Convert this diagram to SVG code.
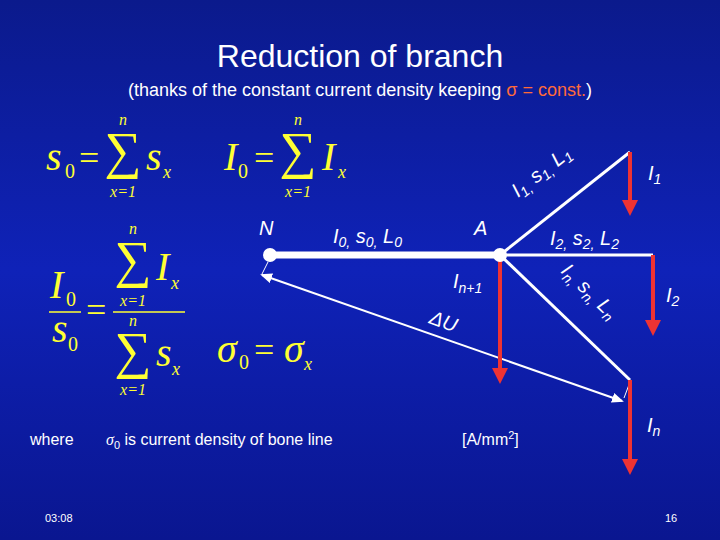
<svg xmlns="http://www.w3.org/2000/svg" width="720" height="540" viewBox="0 0 720 540">
<defs>
<linearGradient id="bg" x1="0" y1="0" x2="0" y2="1">
<stop offset="0" stop-color="#0b1a8c"/><stop offset="0.5" stop-color="#0f22b8"/><stop offset="1" stop-color="#0a1690"/>
</linearGradient>
<marker id="ra" markerWidth="4" markerHeight="4" refX="2" refY="2" orient="auto" markerUnits="strokeWidth"><path d="M0,0 L4,2 L0,4 z" fill="#ee3333"/></marker>
<marker id="wa" markerWidth="6" markerHeight="6" refX="5" refY="3" orient="auto-start-reverse" markerUnits="strokeWidth"><path d="M0,0.5 L6,3 L0,5.5 z" fill="#fff"/></marker>
<style>
.m{font-family:"Liberation Serif",serif;fill:#ffff33}
.i{font-style:italic;font-size:40px}
.eq{font-size:36px}
.sb{font-size:20px}
.sm{font-size:16px;font-style:italic;text-anchor:middle}
.sx{font-size:18px;font-style:italic}
.sig{font-size:52px;text-anchor:middle}
.l{font-family:"Liberation Sans",sans-serif;fill:#fff;font-style:italic;font-size:20px}
.t{font-family:"Liberation Sans",sans-serif;fill:#fff}
.red{stroke:#ee3333;stroke-width:4;marker-end:url(#ra)}
</style>
</defs>
<rect width="720" height="540" fill="url(#bg)"/>
<text class="t" x="360" y="67" font-size="32" text-anchor="middle">Reduction of branch</text>
<text class="t" x="360" y="96" font-size="18" text-anchor="middle">(thanks of the constant current density keeping <tspan fill="#ff6a3a">σ = const.</tspan>)</text>
<g id="formulas" class="m">
<text class="i" x="46" y="170">s</text><text class="sb" x="65" y="178">0</text><text class="eq" x="79" y="170">=</text>
<text class="sig" x="123" y="168">∑</text><text class="sm" x="123" y="125">n</text><text class="sm" x="123" y="197">x=1</text>
<text class="i" x="146" y="170">s</text><text class="sx" x="163" y="178">x</text>
<text class="i" x="224" y="170">I</text><text class="sb" x="238" y="178">0</text><text class="eq" x="254" y="170">=</text>
<text class="sig" x="298" y="168">∑</text><text class="sm" x="298" y="125">n</text><text class="sm" x="298" y="197">x=1</text>
<text class="i" x="322" y="170">I</text><text class="sx" x="338" y="178">x</text>
<text class="i" x="50" y="298">I</text><text class="sb" x="66" y="306">0</text>
<line x1="49" y1="312" x2="81" y2="312" stroke="#ffff33" stroke-width="1.5"/>
<text class="i" x="52" y="342">s</text><text class="sb" x="68" y="351">0</text>
<text class="eq" x="86" y="322">=</text>
<text class="sig" x="133" y="277">∑</text><text class="sm" x="133" y="234">n</text><text class="sm" x="133" y="306">x=1</text>
<text class="i" x="156" y="280">I</text><text class="sx" x="171" y="289">x</text>
<line x1="113" y1="312" x2="185" y2="312" stroke="#ffff33" stroke-width="1.5"/>
<text class="sig" x="133" y="368">∑</text><text class="sm" x="133" y="326">n</text><text class="sm" x="133" y="395">x=1</text>
<text class="i" x="156" y="366">s</text><text class="sx" x="172" y="375">x</text>
<text class="i" x="217" y="362">σ</text><text class="sb" x="239" y="369">0</text><text class="eq" x="254" y="362">=</text>
<text class="i" x="284" y="362">σ</text><text class="sx" x="304" y="370">x</text>
</g>
<g id="connectors">
<line x1="270" y1="255" x2="500" y2="255" stroke="#fff" stroke-width="7"/>
<line x1="500" y1="255" x2="630" y2="152" stroke="#fff" stroke-width="3"/>
<line x1="500" y1="255" x2="653" y2="255" stroke="#fff" stroke-width="3"/>
<line x1="500" y1="255" x2="630" y2="380" stroke="#fff" stroke-width="3"/>
<line x1="268" y1="262" x2="262" y2="274" stroke="#fff" stroke-width="1"/>
<line x1="630" y1="382" x2="624" y2="398" stroke="#fff" stroke-width="1"/>
<line x1="262" y1="275" x2="622" y2="401" stroke="#fff" stroke-width="2" marker-start="url(#wa)" marker-end="url(#wa)"/>
<line class="red" x1="630" y1="152" x2="630" y2="208"/>
<line class="red" x1="653" y1="255" x2="653" y2="328"/>
<line class="red" x1="500" y1="257" x2="500" y2="376"/>
<line class="red" x1="630" y1="380" x2="630" y2="467"/>
</g>
<g id="node-N"><circle cx="270" cy="255" r="7" fill="#fff"/><text class="l" x="259" y="235" font-size="22">N</text></g>
<g id="node-A"><circle cx="500" cy="255" r="7" fill="#fff"/><text class="l" x="474" y="235" font-size="22">A</text></g>
<g id="labels" class="l">
<text x="333" y="243">I<tspan font-size="14" dy="4">0,</tspan><tspan dy="-4"> s</tspan><tspan font-size="14" dy="4">0,</tspan><tspan dy="-4"> L</tspan><tspan font-size="14" dy="4">0</tspan></text>
<text x="453" y="288">I<tspan font-size="14" dy="5">n+1</tspan></text>
<text transform="translate(428,323) rotate(19.5)">ΔU</text>
<text transform="translate(518,198) rotate(-38)">I<tspan font-size="14" dy="4">1,</tspan><tspan dy="-4"> s</tspan><tspan font-size="14" dy="4">1,</tspan><tspan dy="-4"> L</tspan><tspan font-size="14" dy="4">1</tspan></text>
<text x="550" y="245">I<tspan font-size="14" dy="4">2,</tspan><tspan dy="-4"> s</tspan><tspan font-size="14" dy="4">2,</tspan><tspan dy="-4"> L</tspan><tspan font-size="14" dy="4">2</tspan></text>
<text transform="translate(560,272) rotate(44)">I<tspan font-size="14" dy="4">n,</tspan><tspan dy="-4"> s</tspan><tspan font-size="14" dy="4">n,</tspan><tspan dy="-4"> L</tspan><tspan font-size="14" dy="4">n</tspan></text>
<text x="648" y="180">I<tspan font-size="14" dy="4">1</tspan></text>
<text x="666" y="302">I<tspan font-size="14" dy="4">2</tspan></text>
<text x="647" y="432">I<tspan font-size="14" dy="4">n</tspan></text>
</g>
<g id="footer" class="t" font-size="16">
<text x="30" y="445">where</text>
<text x="106" y="445"><tspan font-family="Liberation Serif,serif" font-style="italic">σ</tspan><tspan font-size="11" dy="4">0</tspan><tspan dy="-4">  is  current density of bone line</tspan></text>
<text x="462" y="445">[A/mm<tspan font-size="11" dy="-6">2</tspan><tspan dy="6">]</tspan></text>
<text x="45" y="522" font-size="11">03:08</text>
<text x="665" y="522" font-size="11">16</text>
</g>
</svg>
